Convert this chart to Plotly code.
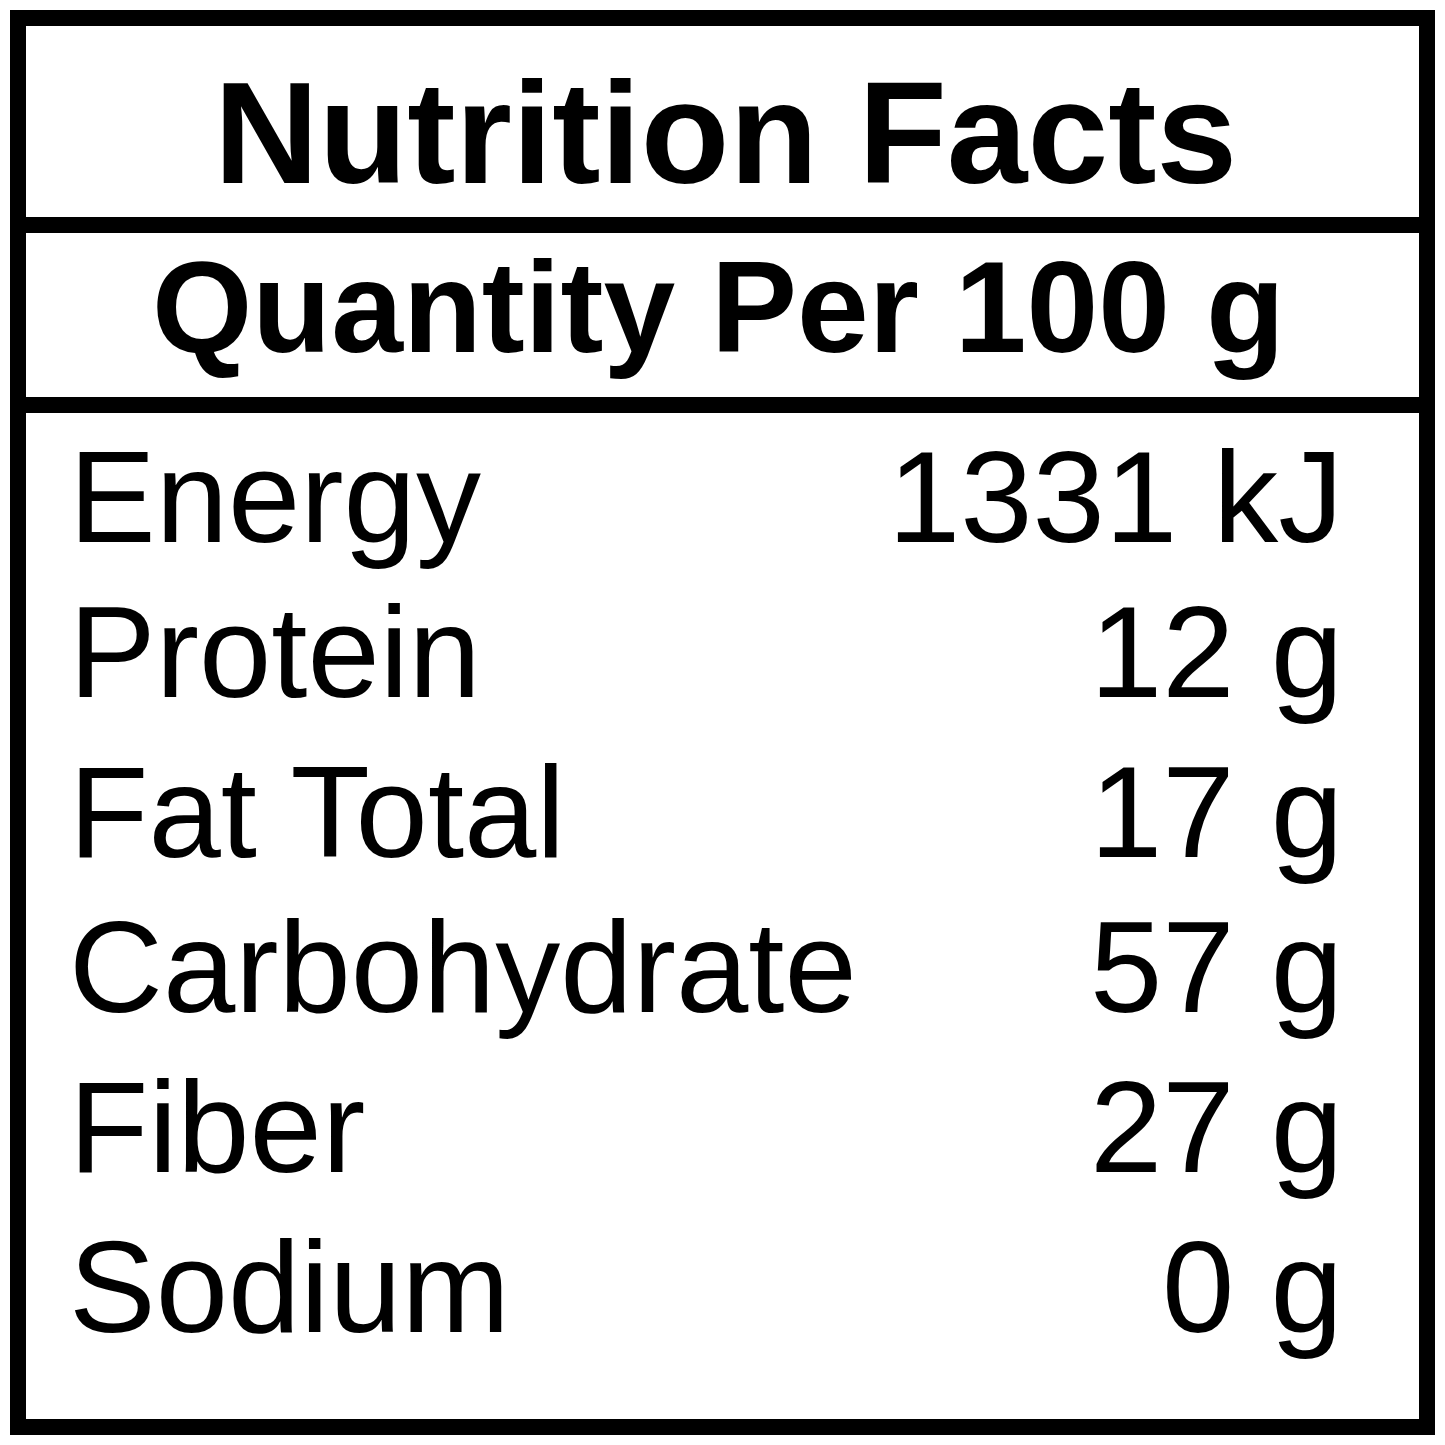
import plotly.graph_objects as go

W = H = 1445
OFF = 8  # page body margin shifts the figure

TITLE = "Nutrition Facts"
SUBTITLE = "Quantity Per 100 g"
NUTRIENTS = ["Energy", "Protein", "Fat Total", "Carbohydrate", "Fiber", "Sodium"]
AMOUNTS = ["1331 kJ", "12 g", "17 g", "57 g", "27 g", "0 g"]

# vertical centres of the cap height for each row, in pixels from top
ROW_Y = [497, 652, 812, 967, 1127, 1287]


def px_(p):
    return (p - OFF) / W


def py(p):
    return 1 - (p - OFF) / H


fig = go.Figure()

shapes = [
    dict(type="rect", x0=px_(18), x1=px_(1427), y0=py(18), y1=py(1427)),
    dict(type="line", x0=px_(18), x1=px_(1427), y0=py(225), y1=py(225)),
    dict(type="line", x0=px_(18), x1=px_(1427), y0=py(405), y1=py(405)),
]
for s in shapes:
    s.update(xref="paper", yref="paper", line=dict(color="black", width=16))

font = "Liberation Sans, Arial, sans-serif"
ann = [
    dict(text="<b>%s</b>" % TITLE, x=px_(725), y=py(133), xanchor="center", yanchor="middle",
         font=dict(family=font, size=145, color="black")),
    dict(text="<b>%s</b>" % SUBTITLE, x=px_(718), y=py(308), xanchor="center", yanchor="middle",
         font=dict(family=font, size=129, color="black")),
]
for name, amt, y in zip(NUTRIENTS, AMOUNTS, ROW_Y):
    ann.append(dict(text=name, x=px_(67), y=py(y), xanchor="left", yanchor="middle",
                    font=dict(family=font, size=130, color="black")))
    ann.append(dict(text=amt, x=px_(1345), y=py(y), xanchor="right", yanchor="middle",
                    font=dict(family=font, size=130, color="black")))
for a in ann:
    a.update(xref="paper", yref="paper", showarrow=False)

fig.update_layout(
    width=W, height=H, margin=dict(l=0, r=0, t=0, b=0),
    paper_bgcolor="white", plot_bgcolor="white",
    xaxis=dict(visible=False), yaxis=dict(visible=False),
    shapes=shapes, annotations=ann, showlegend=False,
)

fig.write_html("out.html")
